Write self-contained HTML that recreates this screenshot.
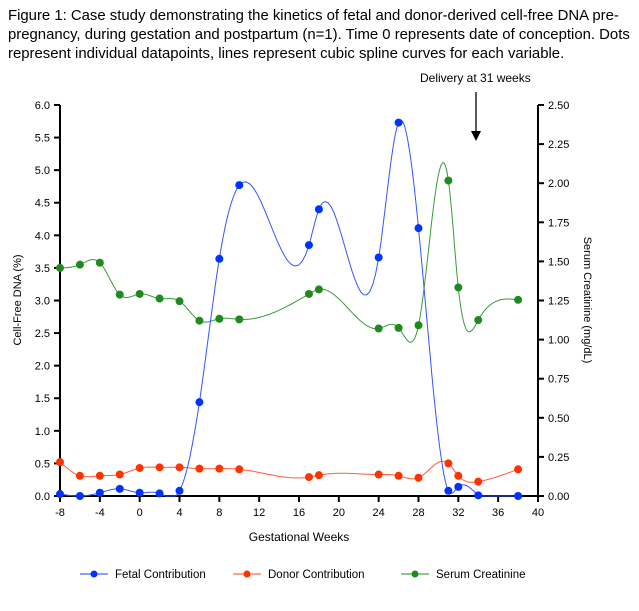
<!DOCTYPE html>
<html><head><meta charset="utf-8"><style>
body{margin:0;background:#fff;}
svg{display:block;font-family:"Liberation Sans",Arial,sans-serif;}
</style></head><body>
<svg id="s" width="639" height="611" xmlns="http://www.w3.org/2000/svg">
<text x="8" y="20" font-size="14.9" fill="#000">Figure 1: Case study demonstrating the kinetics of fetal and donor-derived cell-free DNA pre-</text>
<text x="8" y="39" font-size="14.9" fill="#000">pregnancy, during gestation and postpartum (n=1). Time 0 represents date of conception. Dots</text>
<text x="8" y="58" font-size="14.9" fill="#000">represent individual datapoints, lines represent cubic spline curves for each variable.</text>
<text x="420" y="82" font-size="12">Delivery at 31 weeks</text>
<line x1="476" y1="92" x2="476" y2="136" stroke="#000" stroke-width="1.3"/>
<path d="M471,131 L476,141 L481,131 Z" fill="#000"/>
<g id="axes" stroke="#000" stroke-width="2" fill="none"></g>
<g id="labels" font-size="11" fill="#000"></g>
<g id="series"></g>
<text transform="translate(21,300) rotate(-90)" text-anchor="middle" font-size="11">Cell-Free DNA (%)</text>
<text transform="translate(584,300) rotate(90)" text-anchor="middle" font-size="11">Serum Creatinine (mg/dL)</text>
<text x="299" y="541" text-anchor="middle" font-size="12">Gestational Weeks</text>
<g font-size="11.5">
<line x1="80" y1="574" x2="108" y2="574" stroke="#1a3cff"/><circle cx="94" cy="574" r="3.5" fill="#0033ff"/>
<text x="115" y="578">Fetal Contribution</text>
<line x1="233" y1="574" x2="261" y2="574" stroke="#ff4020"/><circle cx="247" cy="574" r="3.5" fill="#ff3300"/>
<text x="268" y="578">Donor Contribution</text>
<line x1="401" y1="574" x2="429" y2="574" stroke="#2a8a2a"/><circle cx="415" cy="574" r="3.5" fill="#1f8a1f"/>
<text x="436" y="578">Serum Creatinine</text>
</g>
</svg>
<script>
var NS="http://www.w3.org/2000/svg";
function X(v){return 60+(v+8)*478/48;}
function Y(v){return 496-v*65.17;}
function el(p,t,a,txt){var e=document.createElementNS(NS,t);for(var k in a)e.setAttribute(k,a[k]);if(txt!==undefined)e.textContent=txt;document.getElementById(p).appendChild(e);return e;}
el("axes","line",{x1:60,y1:105,x2:60,y2:497});
el("axes","line",{x1:538,y1:105,x2:538,y2:497});
el("axes","line",{x1:59,y1:496,x2:539,y2:496});
for(var i=0;i<=12;i++){var v=i*0.5,y=Y(v);el("axes","line",{x1:54,y1:y,x2:60,y2:y});el("labels","text",{x:50,y:y+4,"text-anchor":"end"},v.toFixed(1));}
for(var i=0;i<=10;i++){var v=i*0.25,y=496-v*391/2.5;el("axes","line",{x1:538,y1:y,x2:544,y2:y});el("labels","text",{x:548,y:y+4},v.toFixed(2));}
for(var v=-8;v<=40;v+=4){var x=X(v);el("axes","line",{x1:x,y1:496,x2:x,y2:502});el("labels","text",{x:x,y:516,"text-anchor":"middle"},String(v));}
var xs=[-8,-6,-4,-2,0,2,4,6,8,10,17,18,24,26,28,31,32,34,38];
var fetal=[0.03,0,0.05,0.11,0.05,0.04,0.08,1.44,3.64,4.77,3.85,4.40,3.66,5.73,4.11,0.08,0.14,0.01,0];
var donor=[0.52,0.31,0.31,0.33,0.43,0.44,0.44,0.42,0.42,0.41,0.29,0.32,0.33,0.31,0.28,0.50,0.31,0.22,0.41];
var creat=[3.5,3.55,3.58,3.09,3.10,3.03,2.99,2.69,2.72,2.71,3.10,3.17,2.57,2.58,2.62,4.84,3.20,2.70,3.01];
function spline(x,y){var n=x.length,h=[],a=[],l=[1],mu=[0],z=[0],c=new Array(n).fill(0),b=[],d=[];
for(var i=0;i<n-1;i++)h[i]=x[i+1]-x[i];
for(var i=1;i<n-1;i++)a[i]=3/h[i]*(y[i+1]-y[i])-3/h[i-1]*(y[i]-y[i-1]);
for(var i=1;i<n-1;i++){l[i]=2*(x[i+1]-x[i-1])-h[i-1]*mu[i-1];mu[i]=h[i]/l[i];z[i]=(a[i]-h[i-1]*z[i-1])/l[i];}
z[n-1]=0;for(var j=n-2;j>=0;j--){c[j]=z[j]-mu[j]*c[j+1];b[j]=(y[j+1]-y[j])/h[j]-h[j]*(c[j+1]+2*c[j])/3;d[j]=(c[j+1]-c[j])/(3*h[j]);}
var pts=[];for(var i=0;i<n-1;i++){for(var k=0;k<20;k++){var t=h[i]*k/20;var v=y[i]+b[i]*t+c[i]*t*t+d[i]*t*t*t;pts.push([x[i]+t,Math.max(v,0)]);}}
pts.push([x[n-1],y[n-1]]);return pts;}
function draw(y,lc,dc){var p=spline(xs,y);var d=p.map(function(q,i){return(i?"L":"M")+X(q[0]).toFixed(1)+","+Y(q[1]).toFixed(1);}).join("");
el("series","path",{d:d,fill:"none",stroke:lc,"stroke-width":1});
for(var i=0;i<xs.length;i++)el("series","circle",{cx:X(xs[i]),cy:Y(y[i]),r:4,fill:dc});}
draw(creat,"#3a9a3a","#1f8a1f");
draw(donor,"#ff5a3a","#ff3300");
draw(fetal,"#3355ff","#0033ff");
</script>
</body></html>
